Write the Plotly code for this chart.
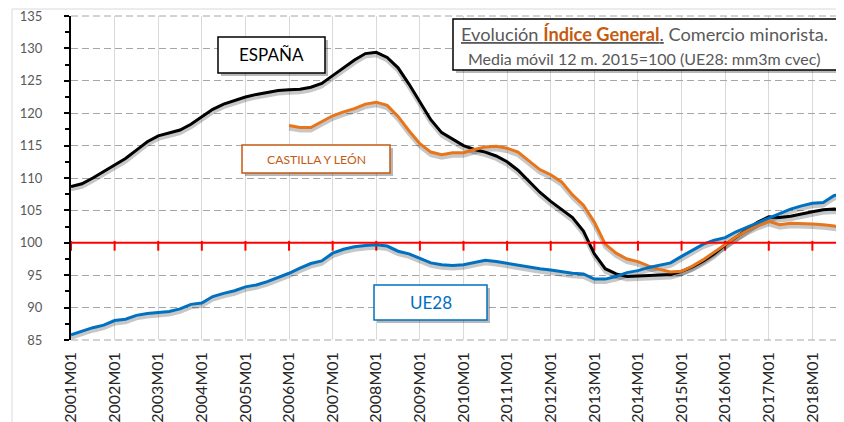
import plotly.graph_objects as go

# ---------------- data ----------------
months = [f"{y}M{m:02d}" for y in range(2001, 2019) for m in range(1, 13)]
tick_labels = [f"{y}M01" for y in range(2001, 2019)]

# quarterly readings (every 3rd month) from 2001M01 to 2018M10
espana_x = months[0:214:3]
espana = [108.7, 109.1, 110.0, 111.0, 112.0, 113.0, 114.3, 115.6, 116.5, 116.9,
          117.4, 118.3, 119.4, 120.6, 121.4, 122.0, 122.5, 122.9, 123.2, 123.5,
          123.6, 123.7, 124.0, 124.6, 125.8, 127.0, 128.2, 129.2, 129.4, 128.6,
          127.0, 124.5, 121.8, 119.0, 117.0, 116.0, 115.0, 114.4, 114.0, 113.4,
          112.5, 111.2, 109.5, 107.8, 106.4, 105.2, 103.9, 101.8, 98.3, 96.0,
          95.2, 94.8, 94.9, 94.9, 95.0, 95.1, 95.6, 96.3, 97.2, 98.3,
          99.7, 100.9, 102.0, 103.2, 104.0, 103.9, 104.1, 104.5, 104.8, 105.1,
          105.2, 105.0]

castilla_x = months[60:214:3]
castilla = [118.1, 117.8, 117.8, 118.7, 119.6, 120.2, 120.7, 121.4, 121.7, 121.2,
            119.5, 117.3, 115.3, 114.0, 113.6, 113.9, 113.9, 114.4, 114.8, 114.9,
            114.6, 114.0, 112.7, 111.3, 110.5, 109.4, 107.4, 105.8, 103.2, 99.8,
            98.4, 97.5, 97.1, 96.4, 95.9, 95.5, 95.6, 96.4, 97.4, 98.6,
            99.7, 100.9, 101.9, 102.7, 103.3, 102.8, 103.0, 103.0, 102.9, 102.8,
            102.6, 102.1]

ue28_x = months[0:214:3]
ue28 = [85.8, 86.4, 86.9, 87.3, 88.0, 88.2, 88.8, 89.1, 89.3, 89.4,
        89.8, 90.5, 90.7, 91.7, 92.2, 92.6, 93.2, 93.5, 94.0, 94.6,
        95.3, 96.1, 96.8, 97.2, 98.4, 99.0, 99.4, 99.6, 99.7, 99.5,
        98.7, 98.3, 97.6, 96.9, 96.6, 96.5, 96.6, 97.0, 97.3, 97.1,
        96.8, 96.5, 96.2, 96.0, 95.8, 95.5, 95.3, 95.2, 94.4, 94.4,
        94.8, 95.4, 95.7, 96.2, 96.5, 96.9, 97.9, 98.9, 99.8, 100.4,
        100.8, 101.7, 102.4, 103.1, 103.9, 104.6, 105.2, 105.7, 106.1, 106.2,
        107.3, 107.6]

BASE = 100
Y_MIN, Y_MAX = 85, 135

# ---------------- layout geometry ----------------
OFF = 8                      # page body margin of the html page
W, H = 844 - OFF, 422 - OFF
L, T = 71 - OFF, 16 - OFF    # plot area starts at window px (71, 16)
PW, PH = 773, 324
R, B = W - L - PW, H - T - PH
X_END = 212.7  # month index at right edge

def px(x):   # window pixel -> paper
    return (x - OFF - L) / PW

def py(y):
    return (T + PH - (y - OFF)) / PH

def idx(labels):
    return [months.index(c) for c in labels]

FONT = "Lato, Carlito, Calibri, sans-serif"
BLACK = "#000000"
ORANGE = "#E8751A"
BROWN = "#C55A11"
BLUE = "#0070C0"
GREY = "#595959"
RED = "#FF0000"

series = [
    ("ESPAÑA", espana_x, espana, BLACK),
    ("CASTILLA Y LEÓN", castilla_x, castilla, ORANGE),
    ("UE28", ue28_x, ue28, BLUE),
]
year_idx = idx(tick_labels)

fig = go.Figure()
# main subplot carrier (axes, grid)
fig.add_trace(go.Scatter(x=[0], y=[None], mode="lines", xaxis="x", yaxis="y",
                         showlegend=False, hoverinfo="skip"))
# red tick marks hanging below the 100 line (drawn on the slightly shifted overlay)
fig.add_trace(go.Scatter(x=year_idx, y=[BASE] * len(year_idx), mode="markers", xaxis="x", yaxis="y2",
                         marker=dict(symbol="line-ns", size=7, color=RED,
                                     line=dict(color=RED, width=2)),
                         showlegend=False, hoverinfo="skip"))
# shadows (same data drawn through a slightly shifted overlay axis)
for name, xs, ys, col in series:
    fig.add_trace(go.Scatter(x=idx(xs), y=ys, mode="lines", xaxis="x", yaxis="y2",
                             line=dict(color="rgba(0,0,0,0.22)", width=4),
                             showlegend=False, hoverinfo="skip"))
# main lines
for name, xs, ys, col in series:
    fig.add_trace(go.Scatter(x=idx(xs), y=ys, mode="lines", name=name, xaxis="x", yaxis="y3",
                             line=dict(color=col, width=3), customdata=xs,
                             hovertemplate="%{customdata}: %{y}<extra>" + name + "</extra>",
                             showlegend=False))

shift = 3 * (Y_MAX - Y_MIN) / PH

fig.update_layout(
    width=W, height=H,
    margin=dict(l=L, r=R, t=T, b=B, autoexpand=False),
    paper_bgcolor="white", plot_bgcolor="white",
    font=dict(family=FONT, color=GREY),
    showlegend=False,
    xaxis=dict(range=[0, X_END], tickmode="array", tickvals=year_idx, ticktext=tick_labels,
               tickangle=-90, tickfont=dict(size=16, color="#262626"),
               ticks="", showline=False, showgrid=True, gridcolor="#D9D9D9", gridwidth=1,
               zeroline=False, ticklabelstandoff=8, automargin=False,
               ticklabeloverflow="allow"),
    yaxis=dict(range=[Y_MIN, Y_MAX], dtick=5, tick0=Y_MIN, ticks="outside", ticklen=5,
               tickwidth=1.5, tickcolor=BLACK, showline=True, linecolor=BLACK, linewidth=2,
               showgrid=True, gridcolor="#A6A6A6", griddash="7px,4px", gridwidth=1,
               zeroline=False, tickfont=dict(size=13, color=GREY), ticklabelstandoff=19,
               automargin=False, ticklabeloverflow="allow",
               minor=dict(dtick=2.5, tick0=Y_MIN, ticks="outside", ticklen=4,
                          tickcolor=BLACK, tickwidth=1.5, showgrid=False)),
    yaxis2=dict(overlaying="y", range=[Y_MIN + shift, Y_MAX + shift], visible=False),
    yaxis3=dict(overlaying="y", range=[Y_MIN, Y_MAX], visible=False),
)

shapes = []
# outer chart border (top edge kept just inside the figure)
shapes.append(dict(type="rect", xref="paper", yref="paper", x0=px(12), y0=py(700), x1=px(1000), y1=py(9),
                   line=dict(color="#D9D9D9", width=1), fillcolor="rgba(0,0,0,0)", layer="above"))
# dashed grid lines at the range ends (plotly clips them at the edges)
for v in (0, 1):
    shapes.append(dict(type="line", xref="paper", yref="paper", x0=0, x1=1, y0=v, y1=v,
                       line=dict(color="#A6A6A6", width=1, dash="7px,4px"), layer="above"))
# reference line at 100
shapes.append(dict(type="line", xref="paper", yref="y", x0=0, x1=1, y0=BASE, y1=BASE,
                   line=dict(color=RED, width=2), layer="above"))

boxes = [
    ((453, 19, 837, 70), BLACK),
    ((218, 37, 325, 73), BLACK),
    ((242, 145, 390, 173), BROWN),
    ((374, 285, 487, 320), BLUE),
]
for (x0, y0, x1, y1), col in boxes:
    shapes.append(dict(type="rect", xref="paper", yref="paper",
                       x0=px(x0 + 3), x1=px(x1 + 3), y0=py(y1 + 3), y1=py(y0 + 3),
                       line=dict(width=0), fillcolor="rgba(0,0,0,0.28)", layer="above"))
    shapes.append(dict(type="rect", xref="paper", yref="paper",
                       x0=px(x0), x1=px(x1), y0=py(y1), y1=py(y0),
                       line=dict(color=col, width=1.5), fillcolor="white", layer="above"))
fig.update_layout(shapes=shapes)

ann = []
ann.append(dict(xref="paper", yref="paper", x=px(644.5), y=py(34), xanchor="center", yanchor="middle",
                showarrow=False, font=dict(size=18.2, color=GREY),
                text=('<span style="text-decoration:underline">Evolución '
                      f'<b><span style="color:{BROWN}">Índice General</span></b>.</span> Comercio minorista.')))
ann.append(dict(xref="paper", yref="paper", x=px(644), y=py(58), xanchor="center", yanchor="middle",
                showarrow=False, font=dict(size=16, color=GREY),
                text="Media móvil 12 m. 2015=100 (UE28: mm3m cvec)"))
ann.append(dict(xref="paper", yref="paper", x=px(271.5), y=py(55), xanchor="center", yanchor="middle",
                showarrow=False, font=dict(size=17, color=BLACK), text="ESPAÑA"))
ann.append(dict(xref="paper", yref="paper", x=px(316), y=py(159), xanchor="center", yanchor="middle",
                showarrow=False, font=dict(size=12.2, color=BROWN), text="CASTILLA Y LEÓN"))
ann.append(dict(xref="paper", yref="paper", x=px(430.5), y=py(302.5), xanchor="center", yanchor="middle",
                showarrow=False, font=dict(size=17, color=BLUE), text="UE28"))
fig.update_layout(annotations=ann)

fig.write_html("out.html")
